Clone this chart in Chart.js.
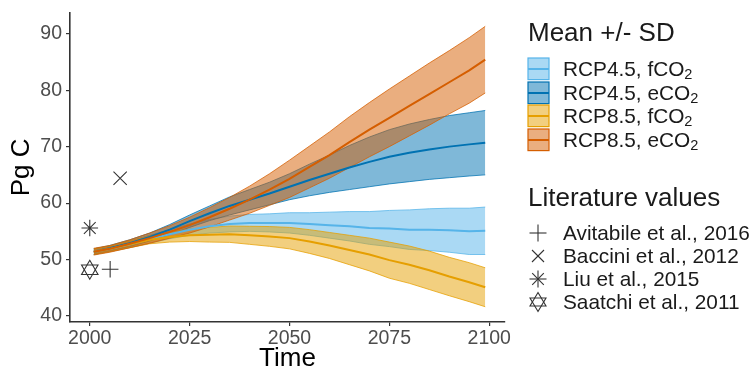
<!DOCTYPE html>
<html>
<head>
<meta charset="utf-8">
<script src="https://cdn.jsdelivr.net/npm/chart.js@4.4.1/dist/chart.umd.min.js"></script>
<style>
  html, body { margin: 0; padding: 0; background: #fff; }
  #wrap { position: relative; width: 755px; height: 372px; overflow: hidden; font-family: "Liberation Sans", Arial, sans-serif; }
  #c { position: absolute; left: 0; top: 0; }
  .lg { position: absolute; left: 527px; color: #1a1a1a; }
  .lgt { font-size: 26px; white-space: nowrap; line-height: 24px; margin-left: 1px; }
  .row { position: absolute; left: 0; height: 23px; white-space: nowrap; font-size: 20.8px; line-height: 23px; }
  .row svg { position: absolute; left: 0; top: 0; }
  .row span { position: absolute; left: 36px; top: 0; }
  sub { font-size: 70%; vertical-align: -3px; line-height: 0; }
</style>
</head>
<body>
<div id="wrap">
  <canvas id="c" width="755" height="372"></canvas>
  <div id="legend1" class="lg" style="top:20px;"></div>
  <div id="legend2" class="lg" style="top:185px;"></div>
</div>
<script>
// ---- data ----
const years = [2001,2005,2010,2015,2020,2025,2030,2035,2040,2045,2050,2055,2060,2065,2070,2075,2080,2085,2090,2095,2099];

const rcp45fMean = [51.4,51.9,52.7,53.6,54.5,55.3,55.9,56.3,56.5,56.5,56.5,56.3,56.1,55.9,55.6,55.5,55.3,55.3,55.2,55.0,55.1];
const rcp45fSd   = [0.5,0.5,0.6,0.7,0.8,1.0,1.2,1.4,1.5,1.6,1.8,2.0,2.3,2.6,2.9,3.2,3.5,3.7,3.9,4.1,4.2];

const rcp45eMean = [51.4,52.0,52.9,54.0,55.3,56.8,58.2,59.5,60.6,61.7,62.9,64.1,65.2,66.3,67.3,68.2,68.9,69.5,70.0,70.4,70.7];
const rcp45eSd   = [0.5,0.5,0.6,0.7,0.9,1.1,1.3,1.6,1.8,2.0,2.3,2.8,3.3,3.9,4.4,4.8,5.1,5.3,5.5,5.6,5.7];

const rcp85fMean = [51.4,51.9,52.7,53.5,54.0,54.3,54.4,54.5,54.3,54.1,53.8,53.2,52.5,51.7,50.9,49.9,49.1,48.1,47.0,46.0,45.1];
const rcp85fSd   = [0.5,0.5,0.6,0.7,0.9,1.1,1.3,1.45,1.6,1.75,1.9,2.1,2.3,2.6,2.9,3.2,3.3,3.4,3.4,3.45,3.45];

const rcp85eMean = [51.4,51.9,52.8,53.8,54.9,56.1,57.5,59.0,60.6,62.4,64.3,66.4,68.5,70.8,73.0,75.1,77.2,79.3,81.4,83.5,85.4];
const rcp85eSd   = [0.6,0.6,0.7,0.9,1.1,1.4,1.7,2.0,2.4,2.8,3.3,3.7,4.1,4.5,4.8,5.1,5.3,5.5,5.6,5.8,5.9];

const seriesNames = ["RCP4.5, fCO<sub>2</sub>", "RCP4.5, eCO<sub>2</sub>", "RCP8.5, fCO<sub>2</sub>", "RCP8.5, eCO<sub>2</sub>"];

const litNames  = ["Avitabile et al., 2016", "Baccini et al., 2012", "Liu et al., 2015", "Saatchi et al., 2011"];
const litYears  = [2005.1, 2007.6, 2000, 2000];
const litValues = [48.3, 64.4, 55.6, 48.2];

const xTicks = [2000, 2025, 2050, 2075, 2100];
const yTicks = [40, 50, 60, 70, 80, 90];

// ---- styles ----
const colors = ["#56B4E9", "#0072B2", "#E69F00", "#D55E00"];
function rgba(hex, a) {
  const n = parseInt(hex.slice(1), 16);
  return `rgba(${(n>>16)&255},${(n>>8)&255},${n&255},${a})`;
}
const means = [rcp45fMean, rcp45eMean, rcp85fMean, rcp85eMean];
const sds = [rcp45fSd, rcp45eSd, rcp85fSd, rcp85eSd];

const datasets = [];
means.forEach((m, i) => {
  const lower = years.map((y, k) => ({x: y, y: m[k] - sds[i][k]}));
  const upper = years.map((y, k) => ({x: y, y: m[k] + sds[i][k]}));
  datasets.push({ type: 'line', data: lower, borderColor: rgba(colors[i], 0.85), borderWidth: 0.9,
    pointRadius: 0, fill: false, tension: 0, order: 10 - i });
  datasets.push({ type: 'line', data: upper, borderColor: rgba(colors[i], 0.85), borderWidth: 0.9,
    pointRadius: 0, fill: '-1', backgroundColor: rgba(colors[i], 0.5), tension: 0, order: 10 - i });
});
means.forEach((m, i) => {
  datasets.push({ type: 'line', data: years.map((y, k) => ({x: y, y: m[k]})), borderColor: colors[i],
    borderWidth: 2, pointRadius: 0, fill: false, tension: 0, order: 5 - i });
});
const litStyles = [
  {pointStyle: 'cross', r: 8.3},
  {pointStyle: 'crossRot', r: 9.4},
  {pointStyle: 'star', r: 8.3},
  {pointStyle: 'triangle', r: 9.5},
];
litNames.forEach((n, i) => {
  const st = litStyles[i];
  datasets.push({ type: 'scatter', data: [{x: litYears[i], y: litValues[i]}], pointStyle: st.pointStyle,
    pointRadius: st.r, pointRotation: 0, borderColor: '#333', borderWidth: 1.1,
    backgroundColor: 'rgba(0,0,0,0)', order: 0 });
  if (i === 3) {
    datasets.push({ type: 'scatter', data: [{x: litYears[i], y: litValues[i]}], pointStyle: 'triangle',
      pointRadius: st.r, pointRotation: 180, borderColor: '#333', borderWidth: 1.1,
      backgroundColor: 'rgba(0,0,0,0)', order: 0 });
  }
});

Chart.defaults.font.family = '"Liberation Sans", Arial, sans-serif';

new Chart(document.getElementById('c'), {
  data: { datasets },
  options: {
    responsive: false, animation: false, devicePixelRatio: 1,
    layout: { padding: { left: 0, right: 250, top: 10, bottom: 0 } },
    plugins: { legend: { display: false }, tooltip: { enabled: false } },
    scales: {
      x: {
        type: 'linear', min: 1995.05, max: 2103.95,
        afterBuildTicks: s => { s.ticks = xTicks.map(v => ({value: v})); },
        afterFit: s => { s.height = 50; },
        ticks: { color: '#4d4d4d', font: { size: 19.5, lineHeight: 1 }, padding: 3, callback: v => String(v), maxRotation: 0 },
        grid: { drawOnChartArea: false, drawTicks: true, tickLength: 4, color: '#333', lineWidth: 1.2 },
        border: { display: true, color: '#333', width: 1.6 },
        title: { display: true, text: 'Time', color: '#000', font: { size: 26, lineHeight: 1 }, padding: { top: 2, bottom: 0 } }
      },
      y: {
        type: 'linear', min: 38.95, max: 93.7,
        afterBuildTicks: s => { s.ticks = yTicks.map(v => ({value: v})); },
        afterFit: s => { s.width = 70; },
        ticks: { color: '#4d4d4d', font: { size: 19.5, lineHeight: 0.9 }, padding: 4, callback: v => String(v) },
        grid: { drawOnChartArea: false, drawTicks: true, tickLength: 4, color: '#333', lineWidth: 1.2 },
        border: { display: true, color: '#333', width: 1.6 },
        title: { display: true, text: 'Pg C', color: '#000', font: { size: 26, lineHeight: 1 }, padding: { top: 9, bottom: 0 } }
      }
    }
  }
});

// ---- HTML legend ----
const l1 = document.getElementById('legend1');
let h = '<div class="lgt">Mean +/- SD</div>';
seriesNames.forEach((n, i) => {
  const top = 37 + i * 23.6;
  h += `<div class="row" style="top:${top}px"><svg width="24" height="24">
    <rect x="1" y="1" width="21" height="21.6" fill="${rgba(colors[i],0.5)}" stroke="${colors[i]}" stroke-width="1.2"/>
    <line x1="1" y1="12" x2="22" y2="12" stroke="${colors[i]}" stroke-width="2"/></svg><span>${n}</span></div>`;
});
l1.innerHTML = h;

const l2 = document.getElementById('legend2');
let h2 = '<div class="lgt">Literature values</div>';
const sym = [
  '<line x1="3.5" y1="12" x2="20.5" y2="12"/><line x1="12" y1="3.5" x2="12" y2="20.5"/>',
  '<line x1="6" y1="6" x2="18" y2="18"/><line x1="18" y1="6" x2="6" y2="18"/>',
  '<line x1="3.5" y1="12" x2="20.5" y2="12"/><line x1="12" y1="3.5" x2="12" y2="20.5"/><line x1="6.2" y1="6.2" x2="17.8" y2="17.8"/><line x1="17.8" y1="6.2" x2="6.2" y2="17.8"/>',
  '<polygon points="12,2.5 20,16 4,16" fill="none"/><polygon points="12,21.5 20,8 4,8" fill="none"/>'
];
litNames.forEach((n, i) => {
  const top = 36 + i * 23;
  h2 += `<div class="row" style="top:${top}px"><svg width="24" height="24" style="left:-1px"><g stroke="#333" stroke-width="1.1" fill="none">${sym[i]}</g></svg><span>${n}</span></div>`;
});
l2.innerHTML = h2;
</script>
</body>
</html>
